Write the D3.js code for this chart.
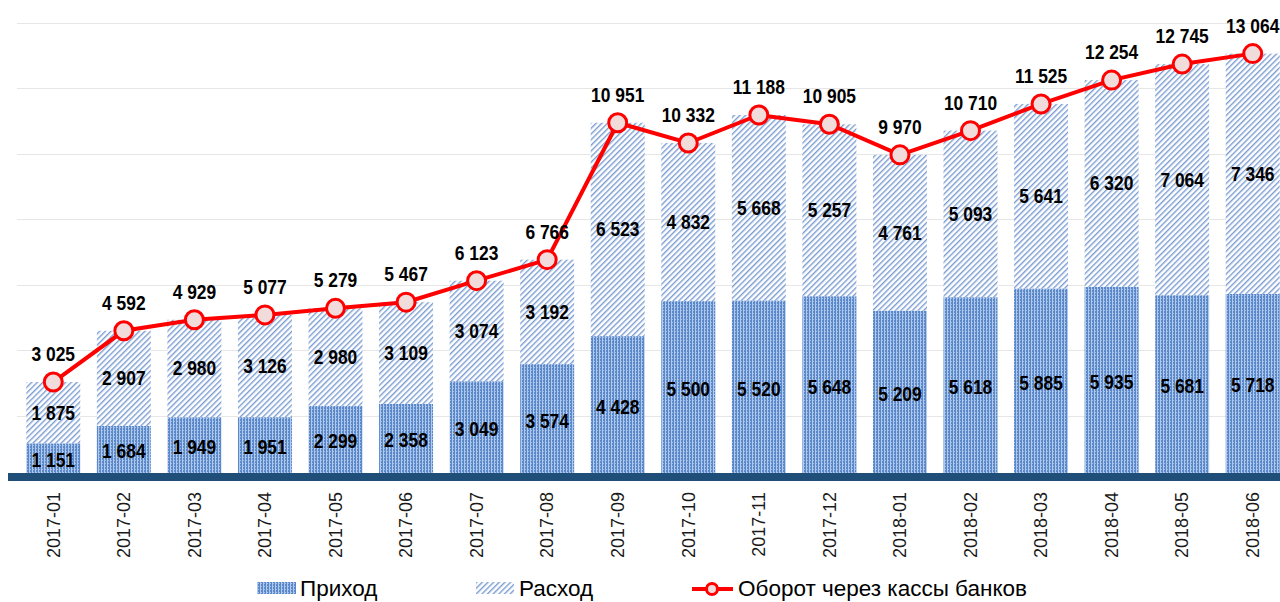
<!DOCTYPE html>
<html>
<head>
<meta charset="utf-8">
<script src="https://cdn.jsdelivr.net/npm/d3@7"></script>
<style>
  body { margin: 0; background: #fff; }
  svg { display: block; }
</style>
</head>
<body>
<div id="chart"></div>
<script>
// chart data
var months = ["2017-01", "2017-02", "2017-03", "2017-04", "2017-05", "2017-06",
              "2017-07", "2017-08", "2017-09", "2017-10", "2017-11", "2017-12",
              "2018-01", "2018-02", "2018-03", "2018-04", "2018-05", "2018-06"];
var income = [1151, 1684, 1949, 1951, 2299, 2358, 3049, 3574, 4428, 5500, 5520, 5648,
              5209, 5618, 5885, 5935, 5681, 5718];
var expense = [1875, 2907, 2980, 3126, 2980, 3109, 3074, 3192, 6523, 4832, 5668, 5257,
               4761, 5093, 5641, 6320, 7064, 7346];
var turnover = [3025, 4592, 4929, 5077, 5279, 5467, 6123, 6766, 10951, 10332, 11188, 10905,
                9970, 10710, 11525, 12254, 12745, 13064];
var yTicks = [0, 2000, 4000, 6000, 8000, 10000, 12000, 14000];
var seriesNames = ["Приход", "Расход", "Оборот через кассы банков"];

function init() {
    var width = 1280, height = 602;
    var fmt = function(v) { return d3.format(",")(v).replace(/,/g, " "); };

    var x = d3.scaleBand().domain(months).range([18, 1288])
        .paddingInner(0.235).paddingOuter(0.1175);
    var y = d3.scaleLinear().domain([0, 14000]).range([481, 23]);

    var svg = d3.select("#chart").append("svg")
        .attr("width", width).attr("height", height);

    // patterns
    var defs = svg.append("defs");
    var pIn = defs.append("pattern").attr("id", "patIncome")
        .attr("patternUnits", "userSpaceOnUse").attr("width", 3).attr("height", 3);
    pIn.append("rect").attr("width", 3).attr("height", 3).attr("fill", "#5a88c8");
    pIn.append("rect").attr("x", 2).attr("width", 1).attr("height", 3).attr("fill", "#b0c9ec");
    pIn.append("rect").attr("x", 0).attr("y", 1).attr("width", 1).attr("height", 1).attr("fill", "#a0bde5");

    var pEx = defs.append("pattern").attr("id", "patExpense")
        .attr("patternUnits", "userSpaceOnUse").attr("width", 4).attr("height", 4)
        .attr("patternTransform", "rotate(45)");
    pEx.append("rect").attr("width", 4).attr("height", 4).attr("fill", "#ffffff");
    pEx.append("rect").attr("width", 1.4).attr("height", 4).attr("fill", "#7a9cd2");

    // gridlines
    svg.append("g").selectAll("line").data(yTicks.slice(1)).enter().append("line")
        .attr("x1", 17).attr("x2", width)
        .attr("y1", d => Math.round(y(d)) + 0.5).attr("y2", d => Math.round(y(d)) + 0.5)
        .attr("stroke", "#e6e6e6").attr("stroke-width", 1);

    var bw = x.bandwidth();

    // bars
    svg.append("g").selectAll("rect").data(months).enter().append("rect")
        .attr("x", d => x(d)).attr("width", bw)
        .attr("y", (d, i) => y(income[i]))
        .attr("height", (d, i) => y(0) - y(income[i]))
        .attr("fill", "url(#patIncome)");
    svg.append("g").selectAll("rect").data(months).enter().append("rect")
        .attr("x", d => x(d)).attr("width", bw)
        .attr("y", (d, i) => y(income[i] + expense[i]))
        .attr("height", (d, i) => y(income[i]) - y(income[i] + expense[i]))
        .attr("fill", "url(#patExpense)");

    // axis base line
    svg.append("rect").attr("x", 8).attr("y", 473).attr("width", width - 8).attr("height", 8)
        .attr("fill", "#1f4e79");

    // x labels
    var xAxis = svg.append("g").attr("transform", "translate(0,481)")
        .call(d3.axisBottom(x).tickSize(0).tickPadding(0));
    xAxis.select(".domain").remove();
    xAxis.selectAll("text")
        .attr("transform", "rotate(-90)")
        .attr("x", -11).attr("y", 0).attr("dy", "0.35em")
        .style("text-anchor", "end")
        .attr("font-family", "'Liberation Sans', Arial, sans-serif")
        .attr("font-size", "18px").attr("fill", "#1a1a1a");

    var labelFont = "'Liberation Sans', Arial, sans-serif";

    // condensed bold value label
    function addLabel(g, cx, cy, txt) {
        g.append("text")
            .attr("transform", "translate(" + cx + "," + cy + ") scale(0.87,1)")
            .attr("dy", "0.35em").attr("text-anchor", "middle")
            .attr("font-family", labelFont).attr("font-weight", "bold").attr("font-size", "20px")
            .attr("fill", "#000")
            .text(txt);
    }

    var gLab = svg.append("g");
    months.forEach(function(m, i) {
        var cx = x(m) + bw / 2;
        addLabel(gLab, cx, (y(0) + y(income[i])) / 2 - 2, fmt(income[i]));
        addLabel(gLab, cx, (y(income[i]) + y(income[i] + expense[i])) / 2, fmt(expense[i]));
    });

    // line
    var line = d3.line().x((d, i) => x(months[i]) + bw / 2).y(d => y(d));
    svg.append("path").datum(turnover).attr("d", line)
        .attr("fill", "none").attr("stroke", "#ff0000").attr("stroke-width", 4);
    svg.append("g").selectAll("circle").data(turnover).enter().append("circle")
        .attr("cx", (d, i) => x(months[i]) + bw / 2).attr("cy", d => y(d))
        .attr("r", 9).attr("fill", "#f2dcdb").attr("stroke", "#ff0000").attr("stroke-width", 3);
    var gTop = svg.append("g");
    turnover.forEach(function(v, i) {
        addLabel(gTop, x(months[i]) + bw / 2, y(v) - 28, fmt(v));
    });

    // legend
    var legFont = "'Liberation Sans', Arial, sans-serif";
    var ly = 588;
    svg.append("rect").attr("x", 257).attr("y", ly - 6).attr("width", 39).attr("height", 12)
        .attr("fill", "url(#patIncome)");
    svg.append("text").attr("x", 300).attr("y", ly).attr("dy", "0.35em")
        .attr("font-family", legFont).attr("font-size", "22.5px").attr("fill", "#000")
        .text(seriesNames[0]);
    svg.append("rect").attr("x", 476).attr("y", ly - 6).attr("width", 38).attr("height", 12)
        .attr("fill", "url(#patExpense)");
    svg.append("text").attr("x", 519).attr("y", ly).attr("dy", "0.35em")
        .attr("font-family", legFont).attr("font-size", "22.5px").attr("fill", "#000")
        .text(seriesNames[1]);
    svg.append("line").attr("x1", 692).attr("x2", 733).attr("y1", ly + 1).attr("y2", ly + 1)
        .attr("stroke", "#ff0000").attr("stroke-width", 4);
    svg.append("circle").attr("cx", 712).attr("cy", ly + 1).attr("r", 5.5)
        .attr("fill", "#f2dcdb").attr("stroke", "#ff0000").attr("stroke-width", 3);
    svg.append("text").attr("x", 738).attr("y", ly).attr("dy", "0.35em")
        .attr("font-family", legFont).attr("font-size", "22.5px").attr("fill", "#000")
        .text(seriesNames[2]);
}
window.onload = init;
</script>
</body>
</html>
